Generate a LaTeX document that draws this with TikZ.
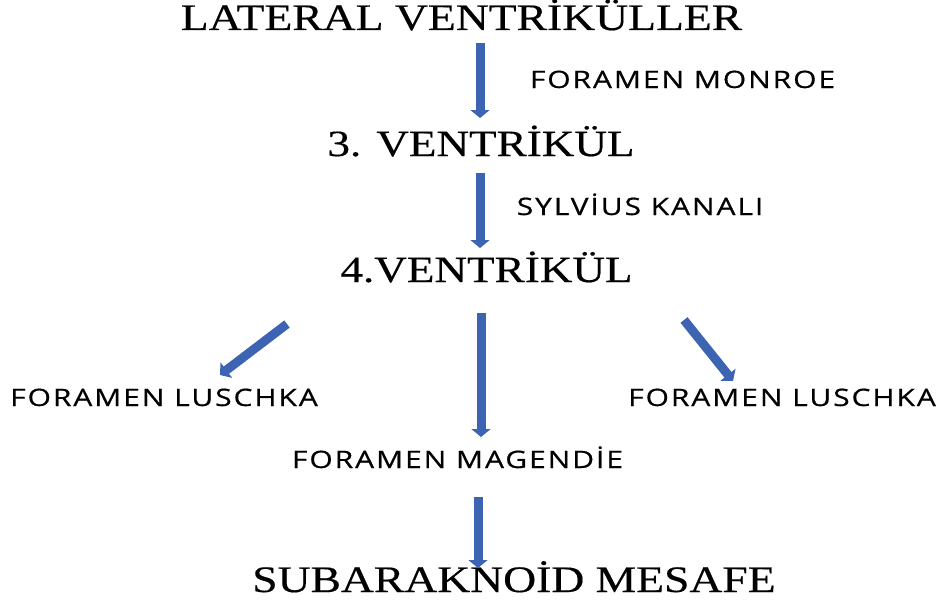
\documentclass[tikz,border=0pt]{standalone}
\usepackage{fontspec}
\usetikzlibrary{arrows.meta}
\newfontfamily\serifwide[FakeStretch=1.22,FakeBold=0.4]{Liberation Serif}
\newfontfamily\sanswide[FakeStretch=1.25,LetterSpace=8,FakeBold=0.6]{Open Sans}
\definecolor{arrowblue}{RGB}{60,100,178}
\tikzset{
  bigtitle/.style={font=\serifwide\fontsize{37.4}{40}\selectfont, anchor=base, inner sep=0pt},
  midtitle/.style={font=\serifwide\fontsize{37}{40}\selectfont, anchor=base, inner sep=0pt},
  label/.style={font=\sanswide\fontsize{24}{27}\selectfont, anchor=base, inner sep=0pt},
  blockarrow/.style={line width=9pt, draw=arrowblue, line cap=butt,
     -{Triangle[width=19pt,length=8pt]}}
}
\begin{document}
\begin{tikzpicture}[x=1pt,y=-1pt]
\useasboundingbox (0,0) rectangle (941,610);
% main titles
\node[bigtitle] (lat) at (461.5,30) {LATERAL VENTRİKÜLLER};
\node[midtitle] (v3) at (481,156) {3. VENTRİKÜL};
\node[midtitle] (v4) at (486.5,282) {4.VENTRİKÜL};
\node[bigtitle] (sub) at (514,592) {SUBARAKNOİD MESAFE};
% labels
\node[label] (monroe) at (682.5,88) {FORAMEN MONROE};
\node[label] (sylvius) at (640,215) {SYLVİUS KANALI};
\node[label] (luschL) at (164,406) {FORAMEN LUSCHKA};
\node[label] (luschR) at (782,406) {FORAMEN LUSCHKA};
\node[label] (magendie) at (457.5,468) {FORAMEN MAGENDİE};
% arrow end points
\coordinate (a1s) at (480,43);
\coordinate (a1e) at (480,118);
\coordinate (a2s) at (480,173);
\coordinate (a2e) at (480,248);
\coordinate (a3s) at (481,313);
\coordinate (a3e) at (481,437);
\coordinate (a4s) at (478,497);
\coordinate (a4e) at (478,568);
\coordinate (a5s) at (287,324);
\coordinate (a5e) at (220,375);
\coordinate (a6s) at (684,320);
\coordinate (a6e) at (733,381);
% arrows
\draw[blockarrow] (a1s) -- (a1e);
\draw[blockarrow] (a2s) -- (a2e);
\draw[blockarrow] (a3s) -- (a3e);
\draw[blockarrow] (a4s) -- (a4e);
\draw[blockarrow] (a5s) -- (a5e);
\draw[blockarrow] (a6s) -- (a6e);
\end{tikzpicture}
\end{document}
